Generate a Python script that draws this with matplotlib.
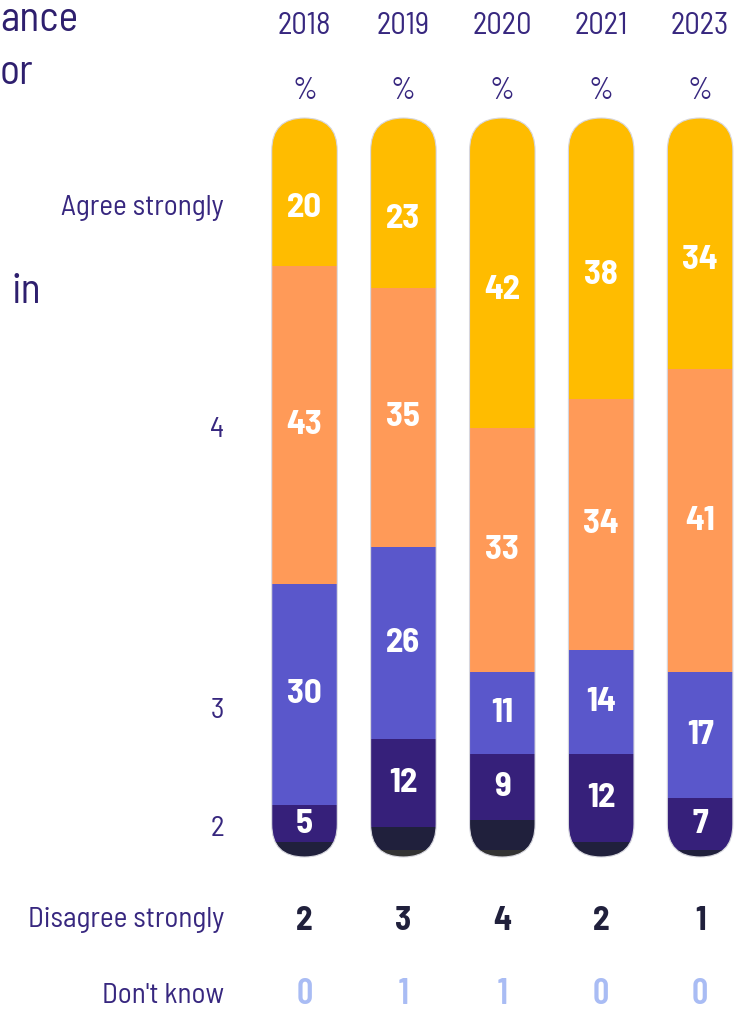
import matplotlib.pyplot as plt
from matplotlib.patches import FancyBboxPatch

FontFam = ['Barlow Semi Condensed', 'DejaVu Sans']
NumFam = ['Barlow Condensed', 'DejaVu Sans']
TextCol = '#37277f'

years = ['2018', '2019', '2020', '2021', '2023']
# stacked bottom -> top
dont_know = [0, 1, 1, 0, 0]
disagree_strongly = [2, 3, 4, 2, 1]
two = [5, 12, 9, 12, 7]
three = [30, 26, 11, 14, 17]
four = [43, 35, 33, 34, 41]
agree_strongly = [20, 23, 42, 38, 34]

series = [dont_know, disagree_strongly, two, three, four, agree_strongly]
colors = ['#333333', '#20203c', '#36207a', '#5a57cb', '#ff9a58', '#ffbc00']

# pixel helpers: 1 x unit = 98.9 px, 1 y unit = 7.39 px, y=0 at 857 px from top
PX_X, PX_Y, Y0 = 98.9, 7.39, 857
def ypx(p):
    return (Y0 - p) / PX_Y

fig = plt.figure(figsize=(7.41, 10.13), dpi=100)
ax = fig.add_axes([0, 0, 1, 1])
x0 = -304.5 / PX_X
ax.set_xlim(x0, (741 - 304.5) / PX_X)
ax.set_ylim(ypx(1013), ypx(0))
ax.axis('off')

x = list(range(len(years)))
width = 0.663
aspect = PX_X / PX_Y
cap = width / 2 * aspect  # radius of the rounded end in y units

for i in x:
    clip = FancyBboxPatch((i - width / 2, 0), width, 100,
                          boxstyle='round,pad=0,rounding_size=%f' % (width / 2),
                          mutation_aspect=aspect, transform=ax.transData,
                          facecolor='none', edgecolor='#d6d6de', linewidth=0.8, zorder=3)
    ax.add_patch(clip)
    bottom = 0
    for s, c in zip(series, colors):
        bars = ax.bar(i, s[i], width=width, bottom=bottom, color=c, linewidth=0, zorder=2)
        for b in bars:
            b.set_clip_path(clip)
        bottom += s[i]

# values inside bars (segments 2, 3, 4, agree)
for i in x:
    bottom = dont_know[i] + disagree_strongly[i]
    for s in series[2:]:
        top = min(bottom + s[i], 100 - cap)
        ax.text(i, (bottom + top) / 2, str(s[i]), ha='center', va='center',
                color='white', fontsize=25, fontweight='bold', family=FontFam, zorder=4)
        bottom += s[i]

# row labels on the left
lab_x = x0 + 224 / PX_X
for lab, base in [('Agree strongly', 215), ('4', 437), ('3', 718), ('2', 836),
                  ('Disagree strongly', 927), ("Don't know", 1003)]:
    ax.text(lab_x, ypx(base), lab, ha='right', va='baseline', color=TextCol,
            fontsize=21, family=FontFam)

for i in x:
    ax.text(i, ypx(930), str(disagree_strongly[i]), ha='center', va='baseline',
            color='#20203c', fontsize=24, fontweight='bold', family=FontFam)
    ax.text(i, ypx(1004), str(dont_know[i]), ha='center', va='baseline',
            color='#a9bcf4', fontsize=26, fontweight='semibold', family=NumFam)

# column headers
for i in x:
    ax.text(i, ypx(34), years[i], ha='center', va='baseline', color=TextCol,
            fontsize=22, family=FontFam)
    ax.text(i, ypx(99), '%', ha='center', va='baseline', color=TextCol,
            fontsize=22, family=FontFam)

# title fragments on the left
for txt, base, px, ha in [('ance', 31, 0, 'left'), ('or', 84, 0, 'left'), ('in', 303, 41, 'right')]:
    ax.text(x0 + px / PX_X, ypx(base), txt, ha=ha, va='baseline',
            color='#2e1f6e', fontsize=30, family=FontFam)

plt.savefig('out.png', dpi=100)
